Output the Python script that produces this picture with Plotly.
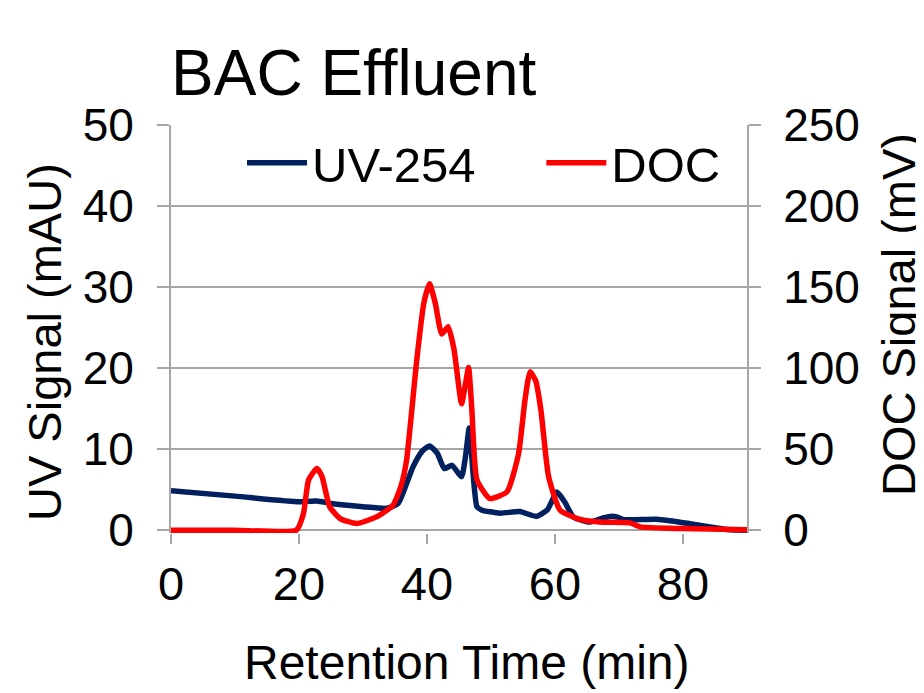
import plotly.graph_objects as go

# UV-254 signal (left axis, mAU)
uv_time = [0, 10, 20, 22.8, 25, 30, 33.7, 35.5, 37.8, 39.2, 40.4, 41.6, 42.7, 43.9, 45.4, 46.0, 46.6,
           47.2, 47.8, 48.5, 51.4, 54.5, 57.1, 58.8, 60.3, 61.5, 62.9, 65.5, 67.5, 68.6, 69.8, 70.7,
           75.9, 81.1, 85, 87.3, 90]
uv_signal = [4.85, 4.2, 3.5, 3.6, 3.3, 2.9, 2.7, 3.3, 7.8, 9.7, 10.4, 9.5, 7.6, 8.0, 6.6, 9.0, 12.6,
             7.0, 2.9, 2.5, 2.1, 2.3, 1.7, 2.5, 4.7, 3.5, 1.6, 1.0, 1.5, 1.7, 1.6, 1.3,
             1.35, 0.8, 0.3, 0.05, 0.0]

# DOC signal (right axis, mV)
doc_time = [0, 10, 19.6, 20.7, 21.5, 22.8, 23.6, 24.8, 26.5, 29.0, 32.1, 34.7, 36.0, 36.8, 38.4, 39.5,
            40.4, 41.3, 42.3, 43.3, 44.2, 45.4, 46.0, 46.5, 47.0, 47.8, 49.8, 52.5, 54.3, 55.3, 56.1,
            57.0, 57.8, 59.0, 60.8, 63.9, 67, 71.7, 73.3, 80, 90]
doc_signal = [0, 0, 0, 10.3, 31, 38, 33, 14.4, 7, 4.1, 8.2, 15.4, 28, 43, 105, 140,
              152, 140, 121, 125.5, 112, 78, 90, 100.4, 75, 31, 19.5, 23.7, 47, 80, 97.7,
              92, 74, 33, 12.3, 6.6, 5, 4.5, 2, 1, 0.3]

x_ticks = [0, 20, 40, 60, 80]
uv_ticks = [0, 10, 20, 30, 40, 50]
doc_ticks = [0, 50, 100, 150, 200, 250]

FONT = "Liberation Sans, Arial, sans-serif"
GRID = "#a6a6a6"
W, H = 916, 685  # page body adds an 8px offset
PLOT_L, PLOT_W, PLOT_B, PLOT_H = 163, 576, 525, 408


def px_to_paper_x(px):
    return (px - PLOT_L) / PLOT_W


def px_to_paper_y(py):
    return (PLOT_B - py) / PLOT_H


fig = go.Figure()
fig.add_trace(go.Scatter(x=uv_time, y=uv_signal, name="UV-254", mode="lines",
                         line=dict(color="#002060", width=5.5, shape="spline", smoothing=0.5),
                         yaxis="y", legend="legend"))
fig.add_trace(go.Scatter(x=doc_time, y=doc_signal, name="DOC", mode="lines",
                         line=dict(color="#ff0000", width=5.5, shape="spline", smoothing=0.5),
                         yaxis="y2", legend="legend2"))

leg_common = dict(orientation="h", yanchor="middle", xanchor="left", y=0.907,
                  font=dict(size=49), bgcolor="rgba(0,0,0,0)", itemwidth=60)

fig.update_layout(
    width=W, height=H,
    margin=dict(l=163, r=177, t=117, b=160),
    paper_bgcolor="white", plot_bgcolor="white",
    font=dict(family=FONT, color="black"),
    title=dict(text="BAC Effluent", font=dict(size=64, color="black"),
               xref="paper", x=0, xanchor="left",
               yref="container", y=1 - 65 / H, yanchor="middle"),
    showlegend=True,
    legend=dict(x=0.1233, **leg_common),
    legend2=dict(x=0.643, **leg_common),
    xaxis=dict(range=[0, 90], tickvals=x_ticks, showgrid=False, zeroline=False,
               showline=False, automargin=False,
               ticks="outside", ticklen=10, tickcolor=GRID, tickwidth=2,
               tickfont=dict(size=47)),
    yaxis=dict(range=[-0.35, 50], tickvals=uv_ticks, showgrid=True, gridcolor=GRID, gridwidth=2,
               zeroline=False, showline=True, linecolor=GRID, linewidth=2, automargin=False,
               ticks="outside", ticklen=12, tickcolor=GRID, tickwidth=2,
               tickfont=dict(size=46), ticklabelstandoff=14),
    yaxis2=dict(range=[-1.75, 250], tickvals=doc_ticks, overlaying="y", side="right", showgrid=False,
                zeroline=False, showline=True, linecolor=GRID, linewidth=2, automargin=False,
                ticks="outside", ticklen=12, tickcolor=GRID, tickwidth=2,
                tickfont=dict(size=46), ticklabelstandoff=13),
    annotations=[
        dict(text="Retention Time (min)", xref="paper", yref="paper",
             x=px_to_paper_x(458), y=px_to_paper_y(654), showarrow=False,
             xanchor="center", yanchor="middle", font=dict(size=48)),
        dict(text="UV Signal (mAU)", xref="paper", yref="paper",
             x=px_to_paper_x(36), y=px_to_paper_y(334), showarrow=False, textangle=-90,
             xanchor="center", yanchor="middle", font=dict(size=47)),
        dict(text="DOC Signal (mV)", xref="paper", yref="paper",
             x=px_to_paper_x(890), y=px_to_paper_y(307), showarrow=False, textangle=-90,
             xanchor="center", yanchor="middle", font=dict(size=47)),
    ],
)

fig.write_html("out.html")
